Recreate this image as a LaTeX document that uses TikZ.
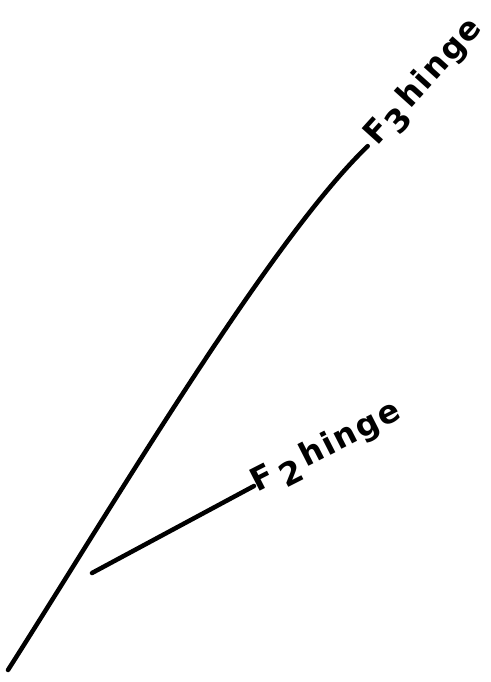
\documentclass[tikz,border=0pt]{standalone}
\usepackage{fontspec}
\newfontfamily\lettering[LetterSpace=6]{DejaVu Sans}
\usetikzlibrary{positioning}

\begin{document}
\begin{tikzpicture}[x=1pt, y=-1pt,
  member/.style={line width=4.5pt, line cap=round},
  hingelabel/.style={anchor=west, inner sep=0pt, font=\lettering\bfseries\fontsize{32}{38}\selectfont}
]
\useasboundingbox (0,0) rectangle (490,682);

% free ends of the members
\coordinate (base) at (8,670);
\coordinate (stub) at (92,573);

% hinge labels
\node[hingelabel, rotate=48] (fthree) at (372,142) {F\raisebox{-10pt}{3}\,hinge};
\node[hingelabel, rotate=27] (ftwo) at (254,486) {F\,\raisebox{-10pt}{2}\,hinge};

% members
\draw[member, shorten >=6pt] (base) .. controls (110,510) and (270,240) .. (fthree.west);
\draw[member] (stub) -- (ftwo.west);

\end{tikzpicture}
\end{document}
